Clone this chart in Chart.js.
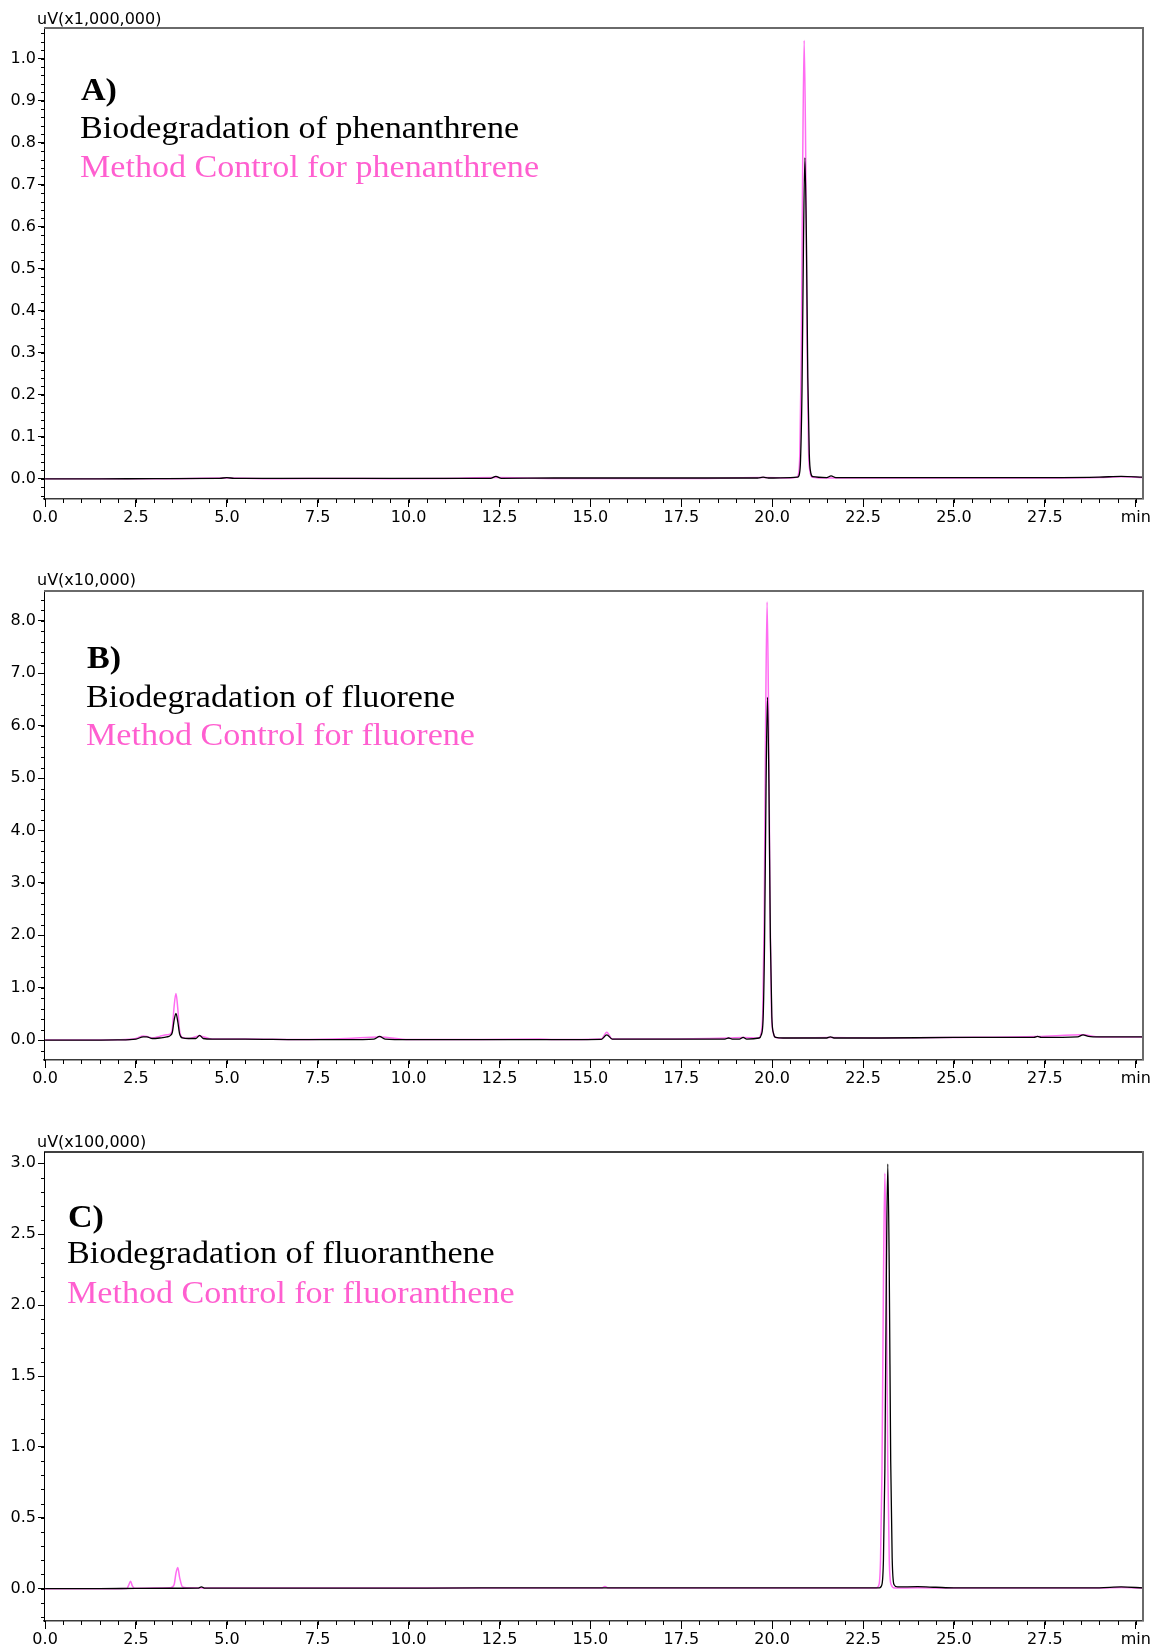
<!DOCTYPE html>
<html>
<head>
<meta charset="utf-8">
<script src="https://cdn.jsdelivr.net/npm/chart.js@4.4.0/dist/chart.umd.min.js"></script>
<style>
  html, body { margin: 0; padding: 0; background: #fff; }
  body { position: relative; width: 1153px; height: 1652px; overflow: hidden; }
  .panel { position: absolute; left: 0; width: 1153px; }
  .unit { position: absolute; left: 37px; font: 16px 'DejaVu Sans', sans-serif; line-height: 16px; color: #000; white-space: nowrap; z-index: 2; }
  .note { position: absolute; font: 32px 'Liberation Serif', 'Times New Roman', serif; line-height: 32px; color: #000; white-space: nowrap; transform: scaleX(1.065); transform-origin: left top; z-index: 2; }
  .note.tag { font-weight: bold; }
  .note.pink { color: #ff5fd0; }
</style>
</head>
<body>

<div class="panel" style="top:0px;height:540px"><canvas id="chartA" width="1153" height="540"></canvas></div>
<div class="panel" style="top:560px;height:540px"><canvas id="chartB" width="1153" height="540"></canvas></div>
<div class="panel" style="top:1120px;height:532px"><canvas id="chartC" width="1153" height="532"></canvas></div>

<div class="unit" style="top:11px">uV(x1,000,000)</div>
<div class="note tag" style="left:81px;top:73px">A)</div>
<div class="note" style="left:80px;top:111px">Biodegradation of phenanthrene</div>
<div class="note pink" style="left:80px;top:150px">Method Control for phenanthrene</div>

<div class="unit" style="top:572px">uV(x10,000)</div>
<div class="note tag" style="left:87px;top:641px">B)</div>
<div class="note" style="left:86px;top:680px">Biodegradation of fluorene</div>
<div class="note pink" style="left:86px;top:718px">Method Control for fluorene</div>

<div class="unit" style="top:1134px">uV(x100,000)</div>
<div class="note tag" style="left:68px;top:1200px">C)</div>
<div class="note" style="left:67px;top:1236px">Biodegradation of fluoranthene</div>
<div class="note pink" style="left:67px;top:1276px">Method Control for fluoranthene</div>

<script>
// 공통 x축 (min)
const xTicks = [0, 2.5, 5, 7.5, 10, 12.5, 15, 17.5, 20, 22.5, 25, 27.5, 30];

// A) phenanthrene, uV(x1,000,000)
const yTicksA = [0.0, 0.1, 0.2, 0.3, 0.4, 0.5, 0.6, 0.7, 0.8, 0.9, 1.0];
const timeA_bio = [0, 1.5, 3, 4.8, 5.0, 5.2, 6.5, 8, 9.5, 11, 12.25, 12.4, 12.55, 14, 16, 18, 19.6, 19.75, 19.9, 20.5,
  20.7, 20.75, 20.78, 20.82, 20.86, 20.9, 20.94, 20.98, 21.02, 21.06, 21.12, 21.5, 21.62, 21.75, 23, 24.5, 26, 27.5, 29, 29.6, 30.2];
const signalA_bio = [0, 0, 0.0005, 0.001, 0.003, 0.001, 0.001, 0.001, 0.001, 0.001, 0.001, 0.006, 0.001, 0.002, 0.002, 0.002, 0.002, 0.004, 0.002, 0.003,
  0.004, 0.012, 0.045, 0.21, 0.555, 0.764, 0.58, 0.24, 0.06, 0.015, 0.005, 0.003, 0.007, 0.003, 0.003, 0.003, 0.003, 0.003, 0.004, 0.006, 0.004];
const timeA_ctrl = [0, 1.5, 3, 5.0, 6.5, 8, 9.5, 11, 12.4, 14, 16, 18, 19.75, 20.5,
  20.68, 20.73, 20.76, 20.8, 20.84, 20.88, 20.92, 20.96, 21.0, 21.04, 21.1, 21.5, 23, 24.5, 26, 27.5, 29, 29.6, 30.2];
const signalA_ctrl = [0, 0, 0, 0.002, 0, 0.001, 0, 0.001, 0.003, 0.001, 0.001, 0.001, 0.003, 0.002,
  0.004, 0.015, 0.06, 0.29, 0.76, 1.043, 0.79, 0.32, 0.07, 0.018, 0.004, 0.002, 0.002, 0.002, 0.002, 0.002, 0.003, 0.005, 0.003];

// B) fluorene, uV(x10,000)
const yTicksB = [0, 1, 2, 3, 4, 5, 6, 7, 8];
const timeB_bio = [0, 1, 2, 2.5, 2.7, 2.8, 2.95, 3.15, 3.35, 3.45, 3.5, 3.55, 3.6, 3.65, 3.7, 3.78, 3.95, 4.15, 4.25, 4.35, 4.6,
  5.5, 7, 8.3, 9.05, 9.2, 9.35, 10, 12, 14, 15.3, 15.45, 15.6, 17, 18.7, 18.8, 18.9, 19.1, 19.2, 19.3,
  19.64, 19.7, 19.75, 19.79, 19.83, 19.87, 19.91, 19.95, 19.99, 20.04, 20.1, 20.3, 21.5, 21.6, 21.7, 23, 25,
  27.2, 27.3, 27.4, 28.4, 28.55, 28.7, 29, 30.2];
const signalB_bio = [0, 0, 0.005, 0.02, 0.06, 0.06, 0.03, 0.04, 0.06, 0.09, 0.15, 0.38, 0.51, 0.35, 0.12, 0.04, 0.03, 0.03, 0.09, 0.03, 0.02,
  0.02, 0.01, 0.01, 0.02, 0.07, 0.02, 0.01, 0.01, 0.01, 0.015, 0.1, 0.02, 0.02, 0.02, 0.04, 0.02, 0.02, 0.05, 0.02,
  0.04, 0.1, 0.4, 1.85, 4.75, 6.54, 4.9, 1.95, 0.45, 0.12, 0.05, 0.04, 0.04, 0.06, 0.04, 0.04, 0.05,
  0.05, 0.07, 0.05, 0.06, 0.1, 0.07, 0.06, 0.06];
const timeB_ctrl = [0, 1, 2, 2.5, 2.7, 2.8, 2.95, 3.15, 3.35, 3.45, 3.5, 3.55, 3.6, 3.65, 3.7, 3.78, 3.95, 4.25, 4.6,
  5.5, 7, 8.3, 9.2, 10, 12, 13.6, 14, 15.3, 15.45, 15.6, 17, 18.8, 19.2,
  19.63, 19.69, 19.74, 19.78, 19.82, 19.86, 19.9, 19.94, 19.98, 20.03, 20.1, 20.3, 21.6, 23, 25,
  27.3, 28.55, 29, 30.2];
const signalB_ctrl = [0, 0, 0.005, 0.03, 0.08, 0.07, 0.04, 0.07, 0.1, 0.12, 0.22, 0.65, 0.89, 0.6, 0.18, 0.05, 0.03, 0.08, 0.02,
  0.02, 0.01, 0.03, 0.06, 0.01, 0.01, 0.02, 0.01, 0.02, 0.15, 0.02, 0.02, 0.04, 0.05,
  0.04, 0.12, 0.5, 2.3, 6.1, 8.36, 6.3, 2.5, 0.55, 0.14, 0.05, 0.04, 0.05, 0.04, 0.05,
  0.07, 0.1, 0.06, 0.06];

// C) fluoranthene, uV(x100,000)
const yTicksC = [0.0, 0.5, 1.0, 1.5, 2.0, 2.5, 3.0];
const timeC_bio = [0, 1.5, 2.5, 3.5, 4.2, 4.3, 4.4, 6, 9, 12, 15, 18, 20, 22, 22.95,
  23.02, 23.06, 23.1, 23.14, 23.18, 23.22, 23.26, 23.3, 23.35, 23.45, 24, 24.5, 25, 27, 29, 29.6, 30.2];
const signalC_bio = [0, 0, 0.002, 0.003, 0.004, 0.012, 0.004, 0.004, 0.004, 0.005, 0.005, 0.005, 0.006, 0.006, 0.006,
  0.03, 0.2, 0.85, 2.2, 2.995, 2.25, 0.9, 0.22, 0.03, 0.012, 0.014, 0.01, 0.006, 0.005, 0.006, 0.012, 0.006];
const timeC_ctrl = [0, 1.5, 2.25, 2.3, 2.35, 2.4, 2.46, 3.0, 3.45, 3.55, 3.6, 3.65, 3.7, 3.78, 3.9, 5, 8, 12, 15.3, 15.4, 15.5, 18, 20, 22, 22.87,
  22.94, 22.98, 23.02, 23.06, 23.1, 23.14, 23.18, 23.22, 23.27, 23.37, 24, 25, 27, 29, 29.6, 30.2];
const signalC_ctrl = [0, 0, 0.002, 0.025, 0.052, 0.02, 0.003, 0.004, 0.006, 0.03, 0.11, 0.15, 0.08, 0.012, 0.006, 0.004, 0.004, 0.004, 0.004, 0.015, 0.004, 0.004, 0.005, 0.005, 0.005,
  0.03, 0.2, 0.83, 2.15, 2.93, 2.2, 0.88, 0.21, 0.03, 0.005, 0.006, 0.004, 0.004, 0.004, 0.008, 0.004];

const BLACK = '#000000';
const PINK = '#ff6cf2';

function toPoints(times, values) {
  return times.map((t, i) => ({ x: t, y: values[i] }));
}

// 보조 눈금 (minor ticks)
const minorTickPlugin = {
  id: 'minorTicks',
  afterDraw(chart, args, opts) {
    const { ctx, chartArea, scales } = chart;
    const xs = scales.x, ys = scales.y;
    ctx.save();
    ctx.strokeStyle = '#000';
    ctx.lineWidth = 1;
    ctx.beginPath();
    const xStart = Math.ceil(xs.min / opts.xStep);
    for (let i = xStart; i * opts.xStep <= xs.max + 1e-9; i++) {
      const px = Math.round(xs.getPixelForValue(i * opts.xStep)) + 0.5;
      ctx.moveTo(px, chartArea.bottom);
      ctx.lineTo(px, chartArea.bottom + 4);
    }
    const yStart = Math.ceil(ys.min / opts.yStep - 1e-9);
    for (let i = yStart; i * opts.yStep <= ys.max + 1e-9; i++) {
      const py = Math.round(ys.getPixelForValue(i * opts.yStep)) + 0.5;
      ctx.moveTo(chartArea.left, py);
      ctx.lineTo(chartArea.left - 3, py);
    }
    ctx.stroke();
    ctx.restore();
  }
};

// 위/오른쪽 테두리
const framePlugin = {
  id: 'frame',
  afterDraw(chart, args, opts) {
    const { ctx, chartArea } = chart;
    ctx.save();
    ctx.lineWidth = opts.topWidth;
    ctx.strokeStyle = opts.topColor;
    ctx.beginPath();
    ctx.moveTo(chartArea.left, chartArea.top);
    ctx.lineTo(chartArea.right, chartArea.top);
    ctx.stroke();
    ctx.lineWidth = 2;
    ctx.strokeStyle = '#6a6a6a';
    ctx.beginPath();
    ctx.moveTo(chartArea.right, chartArea.top - 1);
    ctx.lineTo(chartArea.right, chartArea.bottom);
    ctx.stroke();
    ctx.restore();
  }
};

function drawChromatogram(canvasId, cfg) {
  const ctx = document.getElementById(canvasId).getContext('2d');
  return new Chart(ctx, {
    type: 'line',
    data: {
      datasets: [
        {
          label: 'Biodegradation',
          data: toPoints(cfg.bioTime, cfg.bioSignal),
          borderColor: BLACK,
          borderWidth: 1.3,
          pointRadius: 0,
          cubicInterpolationMode: 'monotone'
        },
        {
          label: 'Method Control',
          data: toPoints(cfg.ctrlTime, cfg.ctrlSignal),
          borderColor: PINK,
          borderWidth: 1.5,
          pointRadius: 0,
          cubicInterpolationMode: 'monotone'
        }
      ]
    },
    options: {
      responsive: false,
      animation: false,
      layout: { padding: { top: cfg.padTop, right: 10, left: 0, bottom: 0 } },
      plugins: {
        legend: { display: false },
        tooltip: { enabled: false },
        minorTicks: { xStep: 0.5, yStep: cfg.yMinor },
        frame: { topColor: cfg.topColor, topWidth: cfg.topWidth }
      },
      scales: {
        x: {
          type: 'linear',
          min: -0.03,
          max: 30.2,
          afterBuildTicks: axis => { axis.ticks = xTicks.map(v => ({ value: v })); },
          afterFit: s => { s.height = cfg.xHeight; s.paddingLeft = 0; s.paddingRight = 0; },
          grid: { drawOnChartArea: false, drawTicks: true, tickLength: 8, tickColor: '#000' },
          border: { display: true, color: '#3a3a3a', width: 1.5 },
          ticks: {
            autoSkip: false,
            maxRotation: 0,
            padding: 1,
            color: '#000',
            font: { family: "'DejaVu Sans', sans-serif", size: 16 },
            callback: v => (v === 30 ? 'min' : v.toFixed(1))
          }
        },
        y: {
          type: 'linear',
          min: cfg.yMin,
          max: cfg.yMax,
          afterBuildTicks: axis => { axis.ticks = cfg.yTicks.map(v => ({ value: v })); },
          afterFit: s => { s.width = 44; s.paddingTop = 0; s.paddingBottom = 0; },
          grid: { drawOnChartArea: false, drawTicks: true, tickLength: 6, tickColor: '#000' },
          border: { display: true, color: '#000', width: 1 },
          ticks: {
            autoSkip: false,
            padding: 2,
            color: '#000',
            font: { family: "'DejaVu Sans', sans-serif", size: 16 },
            callback: v => v.toFixed(1)
          }
        }
      }
    },
    plugins: [minorTickPlugin, framePlugin]
  });
}

drawChromatogram('chartA', {
  bioTime: timeA_bio, bioSignal: signalA_bio,
  ctrlTime: timeA_ctrl, ctrlSignal: signalA_ctrl,
  yMin: -0.048, yMax: 1.073, yTicks: yTicksA, yMinor: 0.02,
  padTop: 28, xHeight: 41, topColor: '#6a6a6a', topWidth: 2
});

drawChromatogram('chartB', {
  bioTime: timeB_bio, bioSignal: signalB_bio,
  ctrlTime: timeB_ctrl, ctrlSignal: signalB_ctrl,
  yMin: -0.38, yMax: 8.57, yTicks: yTicksB, yMinor: 0.2,
  padTop: 31, xHeight: 40, topColor: '#6a6a6a', topWidth: 2
});

drawChromatogram('chartC', {
  bioTime: timeC_bio, bioSignal: signalC_bio,
  ctrlTime: timeC_ctrl, ctrlSignal: signalC_ctrl,
  yMin: -0.228, yMax: 3.08, yTicks: yTicksC, yMinor: 0.1,
  padTop: 32, xHeight: 31, topColor: '#000', topWidth: 1.5
});
</script>
</body>
</html>
